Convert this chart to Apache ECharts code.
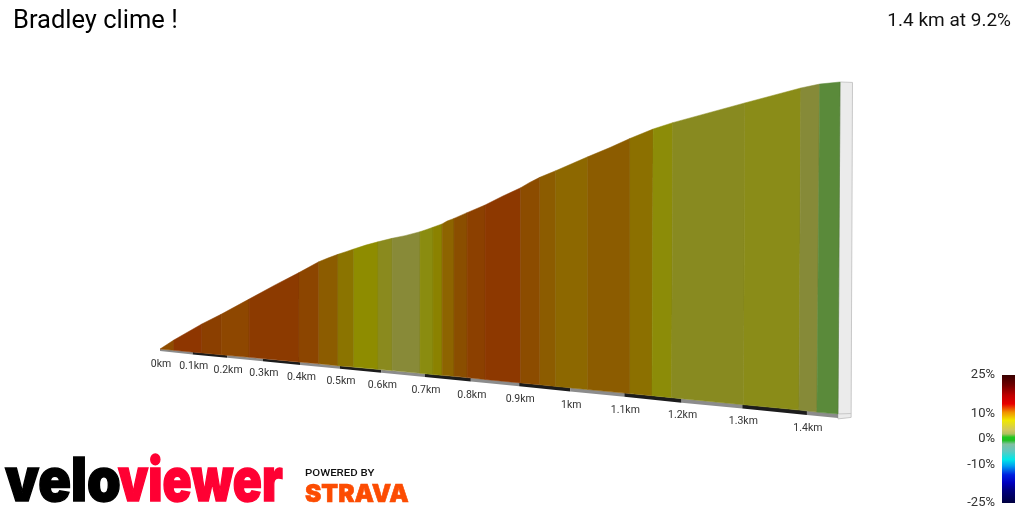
<!DOCTYPE html>
<html>
<head>
<meta charset="utf-8">
<style>
html, body { margin: 0; padding: 0; background: #fff; }
#chart { width: 1024px; height: 512px; }
</style>
<script src="https://cdn.jsdelivr.net/npm/echarts@6/dist/echarts.min.js"></script>
</head>
<body>
<div id="chart"></div>
<script>
// distance along the climb (km), top and foot of each coloured stretch
var top_km = [0, 0.043, 0.127, 0.183, 0.262, 0.396, 0.447, 0.495, 0.534, 0.592, 0.625, 0.689, 0.718, 0.738, 0.764, 0.792, 0.830, 0.903, 0.941, 0.972, 1.033, 1.110, 1.151, 1.185, 1.304, 1.391, 1.419, 1.449];
var foot_km = [0, 0.043, 0.127, 0.183, 0.262, 0.396, 0.447, 0.495, 0.534, 0.592, 0.625, 0.689, 0.718, 0.738, 0.764, 0.792, 0.830, 0.903, 0.941, 0.972, 1.033, 1.110, 1.149, 1.183, 1.302, 1.388, 1.415, 1.446];
// height of the profile and of the ground under it (m)
var top_m = [0, 4.4, 12.2, 16.9, 24.3, 37.2, 42.5, 46.1, 48.7, 52.2, 53.9, 57.1, 59.3, 60.9, 63.6, 66.4, 70.1, 78.5, 83.6, 86.8, 93.6, 102.5, 107.1, 110.2, 119.8, 127.1, 129.0, 130.0];
var foot_m = [0, -0.6, -1.9, -2.8, -4.0, -6.3, -7.2, -8.1, -8.8, -9.9, -10.5, -11.8, -12.4, -12.8, -13.3, -13.9, -14.8, -16.5, -17.4, -18.2, -19.7, -21.7, -22.7, -23.7, -27.1, -29.7, -30.7, -31.6];
// extra profile points inside the long stretches, where the line bends
var bend_km = [0.333, 0.470, 0.515, 0.563, 0.655, 0.704, 0.749, 0.867, 0.921, 1.074];
var bend_m = [31.2, 44.3, 47.4, 50.6, 55.2, 58.2, 62.3, 74.5, 81.1, 98.1];
var seg_colors = ['#8f4c00', '#8e3600', '#8b3f00', '#8e4700', '#8c3a00', '#8c4500', '#8c5c00', '#8b7400', '#8e8c00', '#8a8a1e', '#888a38', '#8a8c10', '#8b8200', '#8d6400', '#8a4e00', '#8c4000', '#8d3800', '#8c4c00', '#8c5c00', '#8d6800', '#8c5c00', '#8c7000', '#8c8c08', '#888a20', '#8a8c18', '#868a38', '#5a8a3a'];

// km markers along the ground
var tick_km = [0, 0.1, 0.2, 0.3, 0.4, 0.5, 0.6, 0.7, 0.8, 0.9, 1, 1.1, 1.2, 1.3, 1.4, 1.446];
var tick_m = [0, -1.5, -3.0, -4.7, -6.4, -8.2, -10.1, -12.0, -14.1, -16.4, -18.9, -21.4, -24.2, -27.0, -30.1, -31.6];
var tick_low_m = [-1.0, -2.6, -4.2, -6.0, -7.8, -9.6, -11.6, -13.6, -15.8, -18.1, -20.7, -23.2, -26.1, -29.0, -32.1, -33.6];
var tick_labels = ['0km', '0.1km', '0.2km', '0.3km', '0.4km', '0.5km', '0.6km', '0.7km', '0.8km', '0.9km', '1km', '1.1km', '1.2km', '1.3km', '1.4km'];
var label_m = [-7.3, -8.3, -10.2, -11.7, -13.6, -15.6, -17.5, -19.9, -22.4, -24.3, -27.3, -29.7, -32.1, -35.1, -38.5];

// the pale end wall
var wall_km = [1.449, 1.467, 1.465, 1.446];
var wall_m = [130.0, 129.8, -33.3, -34.0];
var wall_floor_km = [1.446, 1.465];
var wall_floor_m = [-31.6, -31.4];

// gradient scale
var scale_ticks = [-25, -10, 0, 10, 25];
var scale_grades = [-25, -20, -17, -14, -10.5, -8, -4.7, -2, -0.5, 0.7, 2, 3.5, 7.3, 10.5, 13.7, 17, 21, 25];
var scale_colors = ['#000040', '#000080', '#0000c0', '#0020e0', '#00a0f0', '#00e8e8', '#60c8c0', '#80c0a0', '#20c020', '#20c820', '#b0c060', '#d0c860', '#f0e800', '#f09000', '#e80000', '#c00000', '#700000', '#380000'];

var BEND = 0.2188;
function persp(km) {
    // distances shrink towards the viewer's far side, so the axis runs on this
    return km / (1 - BEND * km);
}

var chart = echarts.init(document.getElementById('chart'));

function render_segment(params, api) {
    var i = params.dataIndex;
    var pt = function (km, m) { return api.coord([persp(km), m]); };
    var b = pt(top_km[i + 1], top_m[i + 1]);
    var c = pt(foot_km[i + 1], foot_m[i + 1]), d = pt(foot_km[i], foot_m[i]);
    var points = [pt(top_km[i], top_m[i])];
    for (var j = 0; j < bend_km.length; j++) {
        if (bend_km[j] > top_km[i] && bend_km[j] < top_km[i + 1]) {
            points.push(pt(bend_km[j], bend_m[j]));
        }
    }
    points.push(b, c, d);
    return {
        type: 'group',
        children: [{
            type: 'polygon',
            shape: { points: points },
            style: { fill: seg_colors[i], stroke: seg_colors[i], lineWidth: 0.5 }
        }, {
            type: 'line',
            shape: { x1: b[0], y1: b[1], x2: c[0], y2: c[1] },
            style: { stroke: 'rgba(0,0,0,0.07)', lineWidth: 1 }
        }]
    };
}

function render_strip(params, api) {
    var i = params.dataIndex;
    var pt = function (km, m) { return api.coord([persp(km), m]); };
    return {
        type: 'polygon',
        shape: { points: [
            pt(tick_km[i], tick_m[i]), pt(tick_km[i + 1], tick_m[i + 1]),
            pt(tick_km[i + 1], tick_low_m[i + 1]), pt(tick_km[i], tick_low_m[i])
        ] },
        style: { fill: i % 2 ? '#1c1c1c' : '#8c8c8c' }
    };
}

function render_tick_label(params, api) {
    var i = params.dataIndex;
    var p = api.coord([persp(tick_km[i]), label_m[i]]);
    return {
        type: 'text',
        x: p[0] + 1,
        y: p[1],
        style: {
            text: tick_labels[i],
            fontFamily: 'Roboto',
            fontSize: 10.5,
            fill: '#333',
            align: 'center',
            verticalAlign: 'middle'
        }
    };
}

function render_wall(params, api) {
    var pts = wall_km.map(function (km, j) { return api.coord([persp(km), wall_m[j]]); });
    var f0 = api.coord([persp(wall_floor_km[0]), wall_floor_m[0]]);
    var f1 = api.coord([persp(wall_floor_km[1]), wall_floor_m[1]]);
    return {
        type: 'group',
        children: [{
            type: 'polygon',
            shape: { points: pts },
            style: { fill: '#ebebeb', stroke: '#c8c8c8', lineWidth: 1 }
        }, {
            type: 'line',
            shape: { x1: f0[0], y1: f0[1], x2: f1[0], y2: f1[1] },
            style: { stroke: '#c8c8c8', lineWidth: 1 }
        }]
    };
}

function render_scale(params, api) {
    var low = api.coord([0, scale_grades[0]]);
    var high = api.coord([1, scale_grades[scale_grades.length - 1]]);
    var stops = scale_grades.map(function (g, j) {
        return { offset: (g + 25) / 50, color: scale_colors[j] };
    });
    return {
        type: 'rect',
        shape: { x: low[0], y: high[1], width: high[0] - low[0], height: low[1] - high[1] },
        style: { fill: new echarts.graphic.LinearGradient(0, 1, 0, 0, stops) }
    };
}

var option = {
    animation: false,
    title: [{
        text: 'Bradley clime !',
        left: 8, top: 4,
        textStyle: { fontFamily: 'Roboto', fontWeight: 'normal', fontSize: 25.5, color: '#000' }
    }, {
        text: '1.4 km at 9.2%',
        right: 8, top: 7,
        textStyle: { fontFamily: 'Roboto', fontWeight: 'normal', fontSize: 19, color: '#111' }
    }],
    grid: [
        { left: 160, top: 82, width: 678, height: 349.2 },
        { left: 1002, top: 375, width: 13, height: 128 }
    ],
    xAxis: [
        { type: 'value', gridIndex: 0, min: 0, max: persp(1.446), show: false },
        { type: 'value', gridIndex: 1, min: 0, max: 1, show: false }
    ],
    yAxis: [
        { type: 'value', gridIndex: 0, min: -40, max: 130, show: false },
        {
            type: 'value', gridIndex: 1, min: -25, max: 25,
            axisLine: { show: false },
            axisTick: { show: false },
            splitLine: { show: false },
            axisLabel: {
                customValues: scale_ticks,
                formatter: '{value}%',
                fontFamily: 'Roboto',
                fontSize: 13,
                color: '#333',
                margin: 7
            }
        }
    ],
    series: [
        { type: 'custom', xAxisIndex: 0, yAxisIndex: 0, renderItem: render_wall, data: [0], silent: true },
        { type: 'custom', xAxisIndex: 0, yAxisIndex: 0, renderItem: render_strip, data: tick_km.slice(1), silent: true },
        { type: 'custom', xAxisIndex: 0, yAxisIndex: 0, renderItem: render_segment, data: seg_colors.map(function (c, i) { return i; }), silent: true },
        { type: 'custom', xAxisIndex: 0, yAxisIndex: 0, renderItem: render_tick_label, data: tick_labels, silent: true },
        { type: 'custom', xAxisIndex: 1, yAxisIndex: 1, renderItem: render_scale, data: [0], silent: true }
    ],
    graphic: [
        { type: 'text', x: 5, y: 483, scaleX: 0.9, style: { text: 'velo', fontFamily: 'Inter', fontWeight: 900, fontSize: 60, fill: '#000', stroke: '#000', lineWidth: 1.5, verticalAlign: 'middle' } },
        { type: 'text', x: 118, y: 483, scaleX: 0.8, style: { text: 'viewer', fontFamily: 'Inter', fontWeight: 900, fontSize: 60, fill: '#ff0033', stroke: '#ff0033', lineWidth: 1.5, verticalAlign: 'middle' } },
        { type: 'text', x: 305, y: 474, scaleX: 1.2, style: { text: 'POWERED BY', fontFamily: 'Roboto', fontWeight: 500, fontSize: 9.5, fill: '#111', verticalAlign: 'middle' } },
        { type: 'text', x: 305, y: 494, scaleX: 0.98, style: { text: 'STRAVA', fontFamily: 'Inter', fontWeight: 900, fontSize: 25, fill: '#fc4c02', stroke: '#fc4c02', lineWidth: 0.6, verticalAlign: 'middle' } }
    ]
};
chart.setOption(option);
</script>
</body>
</html>
